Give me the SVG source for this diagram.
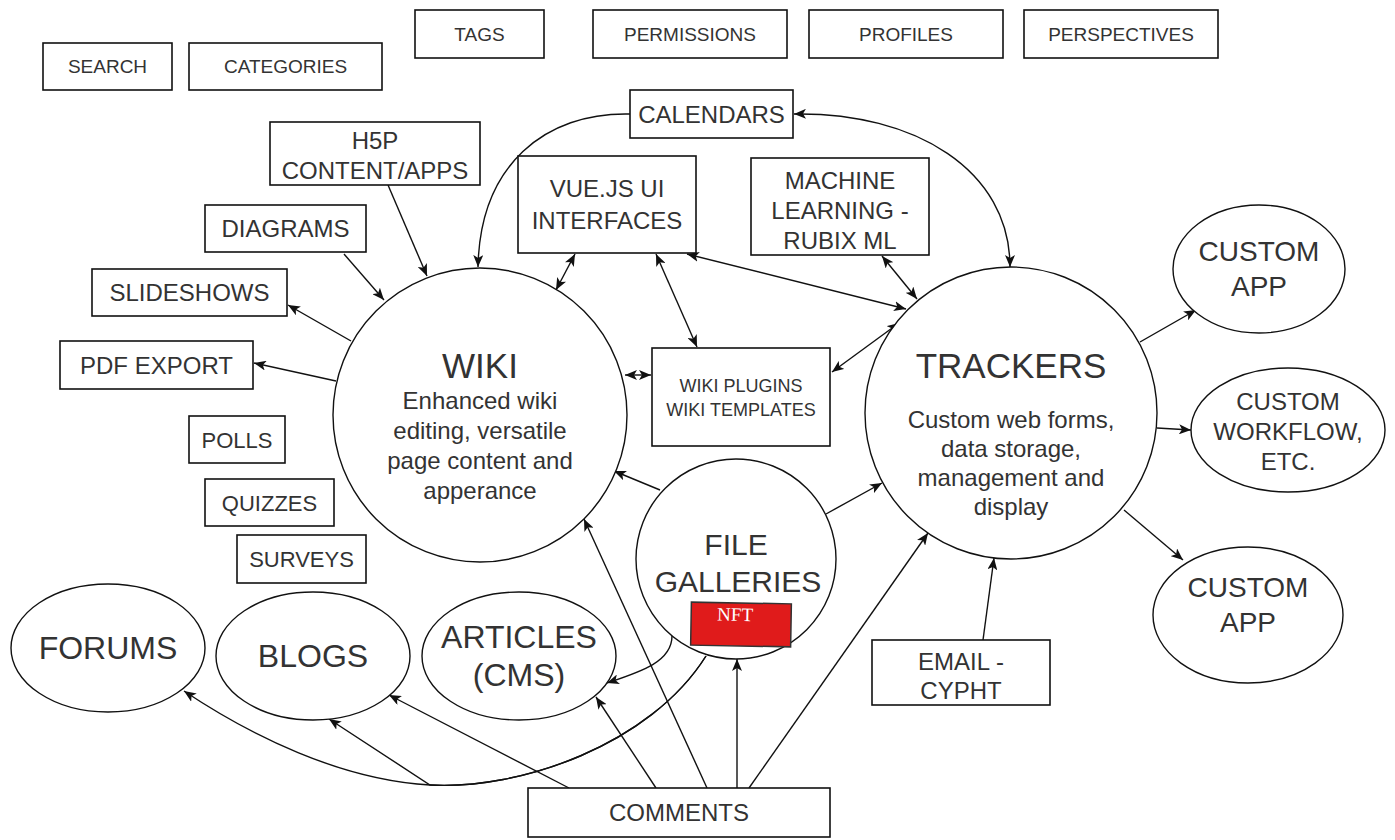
<svg xmlns="http://www.w3.org/2000/svg" width="1395" height="840" viewBox="0 0 1395 840">
<style>
.box{fill:#fff;stroke:#111;stroke-width:1.6}
.ell{fill:#fff;stroke:#111;stroke-width:1.4}
.edge{fill:none;stroke:#111;stroke-width:1.4}
.a1{marker-end:url(#arr)}
.a2{marker-end:url(#arr);marker-start:url(#arr)}
text{font-family:"Liberation Sans",Arial,sans-serif;fill:#333;text-anchor:middle}
.s19{font-size:19px}.s18{font-size:18px}.s22{font-size:22px}.s24{font-size:24px}.s28{font-size:28px}.s30{font-size:30px}.s32{font-size:32px}.s35{font-size:35px}
.nft{font-family:"Liberation Serif","Times New Roman",serif;font-size:19px;fill:#fff}
</style>
<defs>
<marker id="arr" viewBox="0 0 12 10" refX="12" refY="5" markerWidth="12" markerHeight="10" markerUnits="userSpaceOnUse" orient="auto-start-reverse">
<path d="M0,0 L12,5 L0,10 L3,5 Z" fill="#111"/>
</marker>
</defs>
<rect width="1395" height="840" fill="#fff"/>
<g id="connectors">
<path class="edge a1" d="M630,114 C545,112 480,165 478,267"/>
<path class="edge a2" d="M794,114 C915,112 1010,170 1010,267"/>
<path class="edge a1" d="M388,185 L427,276"/>
<path class="edge a1" d="M344,254 L384,300"/>
<path class="edge a1" d="M351,341 L288,305"/>
<path class="edge a1" d="M336,381 L254,363"/>
<path class="edge a2" d="M575,254 L556,290"/>
<path class="edge a2" d="M656,254 L697,347"/>
<path class="edge a2" d="M687,254 L906,309"/>
<path class="edge a2" d="M882,256 L917,299"/>
<path class="edge a2" d="M832,372 L899,323"/>
<path class="edge a2" d="M625,375 L651,375"/>
<path class="edge a1" d="M660,490 L614,471"/>
<path class="edge a1" d="M826,514 L882,483"/>
<path class="edge a1" d="M672,636 C672,662 640,672 607,683"/>
<path class="edge a1" d="M706,656 C650,745 520,790 430,785 C340,780 250,735 184,691"/>
<path class="edge a1" d="M706,656 C650,745 520,790 430,785 L329,719"/>
<path class="edge a1" d="M569,788 L389,695"/>
<path class="edge a1" d="M656,788 L596,697"/>
<path class="edge a1" d="M707,788 L584,519"/>
<path class="edge a1" d="M737,788 L737,659"/>
<path class="edge a1" d="M749,788 L928,533"/>
<path class="edge a1" d="M983,640 L994,558"/>
<path class="edge a1" d="M1140,342 L1196,310"/>
<path class="edge a1" d="M1157,428 L1191,430"/>
<path class="edge a1" d="M1124,510 L1183,560"/>
</g>
<g id="search"><rect class="box" x="43" y="43" width="129" height="47"/><text class="s19" x="107.5" y="73">SEARCH</text></g>
<g id="categories"><rect class="box" x="189" y="43" width="193" height="47"/><text class="s19" x="285.5" y="73">CATEGORIES</text></g>
<g id="tags"><rect class="box" x="415" y="10" width="129" height="48"/><text class="s19" x="479.5" y="41">TAGS</text></g>
<g id="permissions"><rect class="box" x="593" y="10" width="194" height="48"/><text class="s19" x="690" y="41">PERMISSIONS</text></g>
<g id="profiles"><rect class="box" x="809" y="10" width="194" height="48"/><text class="s19" x="906" y="41">PROFILES</text></g>
<g id="perspectives"><rect class="box" x="1024" y="10" width="194" height="48"/><text class="s19" x="1121" y="41">PERSPECTIVES</text></g>
<g id="calendars"><rect class="box" x="630" y="90" width="163" height="48"/><text class="s24" x="711.5" y="123">CALENDARS</text></g>
<g id="h5p"><rect class="box" x="270" y="122" width="210" height="63"/><text class="s24" x="375" y="148.5">H5P</text><text class="s24" x="375" y="178.5">CONTENT/APPS</text></g>
<g id="diagrams"><rect class="box" x="205" y="205" width="161" height="47"/><text class="s24" x="285.5" y="237">DIAGRAMS</text></g>
<g id="slideshows"><rect class="box" x="92" y="269" width="195" height="47"/><text class="s24" x="189.5" y="301">SLIDESHOWS</text></g>
<g id="pdf-export"><rect class="box" x="60" y="341" width="193" height="48"/><text class="s24" x="156.5" y="374">PDF EXPORT</text></g>
<g id="polls"><rect class="box" x="189" y="416" width="96" height="47"/><text class="s22" x="237" y="448">POLLS</text></g>
<g id="quizzes"><rect class="box" x="205" y="479" width="129" height="47"/><text class="s22" x="269.5" y="511">QUIZZES</text></g>
<g id="surveys"><rect class="box" x="237" y="535" width="129" height="48"/><text class="s22" x="301.5" y="567">SURVEYS</text></g>
<g id="vuejs"><rect class="box" x="518" y="156" width="178" height="97"/><text class="s24" x="607" y="196.5">VUE.JS UI</text><text class="s24" x="607" y="228.5">INTERFACES</text></g>
<g id="machine-learning"><rect class="box" x="751" y="158" width="178" height="97"/><text class="s24" x="840" y="188.5">MACHINE</text><text class="s24" x="840" y="218.5">LEARNING -</text><text class="s24" x="840" y="248.5">RUBIX ML</text></g>
<g id="wiki-plugins"><rect class="box" x="652" y="348" width="178" height="98"/><text class="s18" x="741" y="391.5">WIKI PLUGINS</text><text class="s18" x="741" y="415.5">WIKI TEMPLATES</text></g>
<g id="email"><rect class="box" x="872" y="640" width="178" height="65"/><text class="s24" x="961" y="669.5">EMAIL -</text><text class="s24" x="961" y="698.5">CYPHT</text></g>
<g id="comments"><rect class="box" x="528" y="788" width="302" height="49"/><text class="s24" x="679" y="821">COMMENTS</text></g>
<g id="wiki"><circle class="ell" cx="480" cy="415" r="147"/><text class="s35" x="480" y="378">WIKI</text><text class="s24" x="480" y="409">Enhanced wiki</text><text class="s24" x="480" y="439">editing, versatile</text><text class="s24" x="480" y="469">page content and</text><text class="s24" x="480" y="499">apperance</text></g>
<g id="trackers"><circle class="ell" cx="1011" cy="413" r="146"/><text class="s35" x="1011" y="378">TRACKERS</text><text class="s24" x="1011" y="428">Custom web forms,</text><text class="s24" x="1011" y="457">data storage,</text><text class="s24" x="1011" y="486">management and</text><text class="s24" x="1011" y="515">display</text></g>
<g id="file-galleries"><circle class="ell" cx="736" cy="559" r="100"/><text class="s30" x="736" y="555">FILE</text><text class="s30" x="738" y="592">GALLERIES</text>
<g transform="rotate(1 741 625)"><rect x="691" y="603" width="100" height="43" fill="#e01b1b" stroke="#333" stroke-width="1.5"/><text class="nft" x="735" y="621">NFT</text></g></g>
<g id="custom-app-1"><ellipse class="ell" cx="1259" cy="269" rx="86" ry="64"/><text class="s28" x="1259" y="261">CUSTOM</text><text class="s28" x="1259" y="296">APP</text></g>
<g id="custom-workflow"><ellipse class="ell" cx="1288" cy="430" rx="97" ry="62"/><text class="s24" x="1288" y="410">CUSTOM</text><text class="s24" x="1288" y="440">WORKFLOW,</text><text class="s24" x="1288" y="470">ETC.</text></g>
<g id="custom-app-2"><ellipse class="ell" cx="1248" cy="615" rx="95" ry="68"/><text class="s28" x="1248" y="597">CUSTOM</text><text class="s28" x="1248" y="632">APP</text></g>
<g id="forums"><ellipse class="ell" cx="108" cy="648" rx="97" ry="64"/><text class="s32" x="108" y="659">FORUMS</text></g>
<g id="blogs"><ellipse class="ell" cx="313" cy="656" rx="97" ry="64"/><text class="s32" x="313" y="667">BLOGS</text></g>
<g id="articles"><ellipse class="ell" cx="519" cy="656" rx="97" ry="64"/><text class="s32" x="519" y="648">ARTICLES</text><text class="s32" x="519" y="686">(CMS)</text></g>
</svg>
